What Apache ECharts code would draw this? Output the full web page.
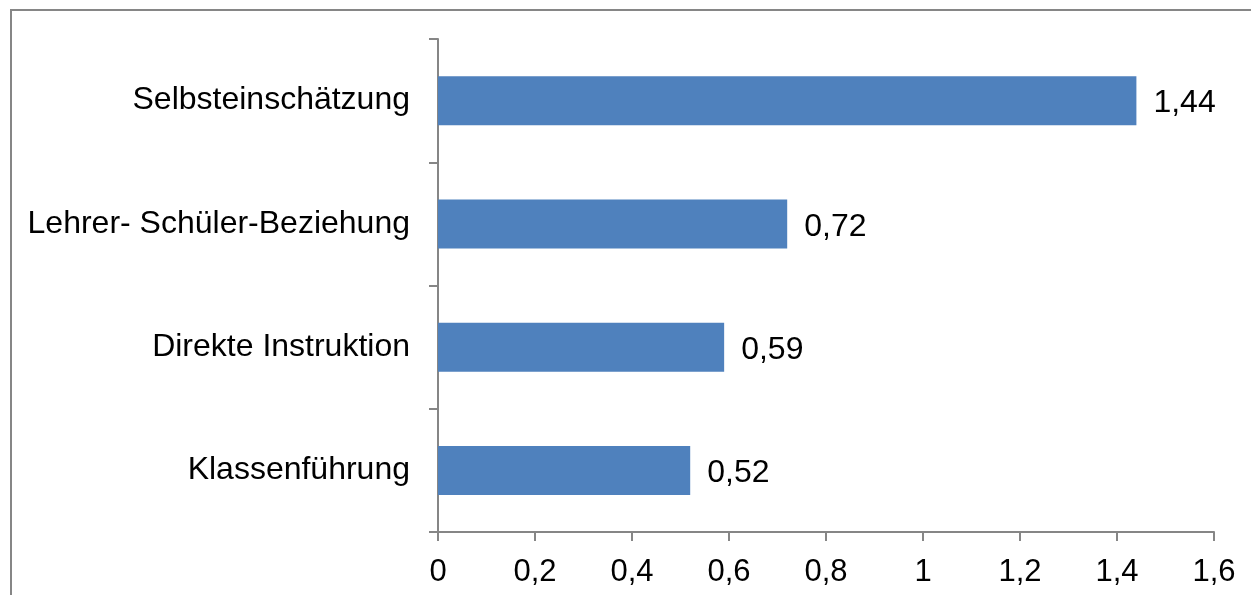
<!DOCTYPE html>
<html>
<head>
<meta charset="utf-8">
<script src="https://cdn.jsdelivr.net/npm/echarts@6/dist/echarts.min.js"></script>
<style>
  html, body { margin: 0; padding: 0; background: #fff; }
  #chart { width: 1251px; height: 595px; }
</style>
</head>
<body>
<div id="chart"></div>
<script>
// categories bottom-to-top as ECharts draws a category y axis
const categories = ["Klassenführung", "Direkte Instruktion", "Lehrer- Schüler-Beziehung", "Selbsteinschätzung"];
const values = [0.52, 0.59, 0.72, 1.44];

const fmt = (v) => String(v).replace(".", ",");

const chart = echarts.init(document.getElementById("chart"));
const axisColor = "#868686";
const font = "Arial, 'Liberation Sans', sans-serif";

chart.setOption({
  animation: false,
  textStyle: { fontFamily: font },
  graphic: [
    {
      type: "rect",
      shape: { x: 11, y: 10, width: 1400, height: 800 },
      style: { fill: "none", stroke: axisColor, lineWidth: 2 },
      silent: true,
    },
  ],
  grid: { left: 438, top: 39, width: 776, height: 493 },
  xAxis: {
    type: "value",
    min: 0,
    max: 1.6,
    interval: 0.2,
    splitLine: { show: false },
    axisLine: { show: true, lineStyle: { color: axisColor, width: 2 } },
    axisTick: { show: true, length: 9, lineStyle: { color: axisColor, width: 2 } },
    axisLabel: {
      color: "#000",
      fontSize: 31,
      fontFamily: font,
      margin: 25,
      formatter: (v) => fmt(Math.round(v * 10) / 10),
    },
  },
  yAxis: {
    type: "category",
    data: categories,
    axisLine: { show: true, lineStyle: { color: axisColor, width: 2 } },
    axisTick: { show: true, length: 9, lineStyle: { color: axisColor, width: 2 } },
    axisLabel: { color: "#000", fontSize: 32, fontFamily: font, margin: 28 },
  },
  series: [
    {
      type: "bar",
      data: values,
      barWidth: 49,
      itemStyle: { color: "#4F81BD" },
      label: {
        show: true,
        position: "right",
        distance: 17,
        offset: [0, 3],
        color: "#000",
        fontSize: 32,
        fontFamily: font,
        formatter: (p) => fmt(p.value),
      },
    },
  ],
});
</script>
</body>
</html>
